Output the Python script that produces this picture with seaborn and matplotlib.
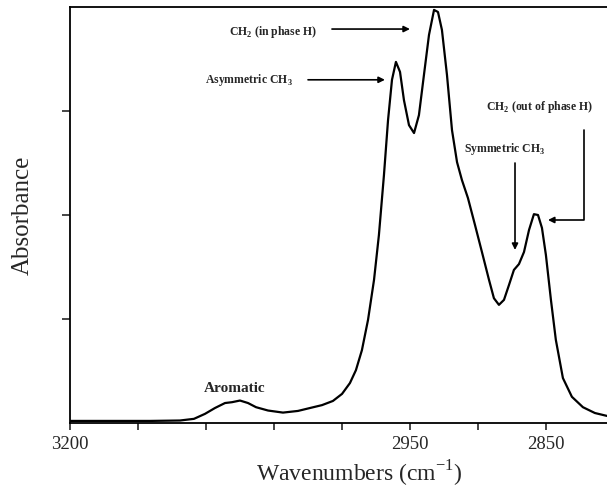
import numpy as np
import pandas as pd
import matplotlib
matplotlib.use("Agg")
import matplotlib.pyplot as plt
import seaborn as sns

# Data
wavenumber = [3200.0, 3170.6, 3141.2, 3119.2, 3108.9, 3100.8, 3093.5, 3086.1, 3081.0, 3075.1,
              3069.2, 3063.3, 3054.5, 3043.5, 3032.5, 3023.7, 3014.8, 3006.8, 3000.1, 2994.3,
              2989.9, 2985.5, 2981.0, 2976.6, 2973.0, 2969.3, 2966.3, 2963.4, 2960.5, 2957.5,
              2954.6, 2950.9, 2947.2, 2943.6, 2939.9, 2936.2, 2932.5, 2929.6, 2926.7, 2923.0,
              2919.3, 2915.6, 2912.0, 2907.6, 2902.4, 2897.3, 2892.1, 2888.5, 2884.8, 2881.1,
              2877.4, 2873.8, 2870.1, 2866.4, 2862.7, 2859.1, 2856.1, 2853.2, 2850.3, 2846.6,
              2843.0, 2837.8, 2831.2, 2823.1, 2814.3, 2805.4]
absorbance = [0.005, 0.005, 0.005, 0.006, 0.010, 0.022, 0.036, 0.048, 0.050, 0.054,
              0.048, 0.038, 0.030, 0.025, 0.029, 0.036, 0.043, 0.053, 0.070, 0.096,
              0.127, 0.175, 0.248, 0.344, 0.452, 0.596, 0.728, 0.825, 0.868, 0.844,
              0.776, 0.716, 0.697, 0.740, 0.837, 0.933, 0.993, 0.988, 0.945, 0.837,
              0.704, 0.627, 0.584, 0.541, 0.476, 0.411, 0.344, 0.300, 0.284, 0.296,
              0.332, 0.368, 0.382, 0.411, 0.464, 0.502, 0.500, 0.469, 0.404, 0.296,
              0.200, 0.108, 0.063, 0.038, 0.024, 0.017]

x_ticks = [3200, 3150, 3100, 3050, 3000, 2950, 2900, 2850]
x_tick_labels = ["3200", "", "", "", "", "2950", "", "2850"]
y_ticks = [0.25, 0.5, 0.75]

annot_texts = ["CH$_\\mathbf{2}$ (in phase H)", "Asymmetric CH$_\\mathbf{3}$",
               "CH$_\\mathbf{2}$ (out of phase H)", "Symmetric CH$_\\mathbf{3}$", "Aromatic"]

df = pd.DataFrame({"Wavenumber": wavenumber, "Absorbance": absorbance})

sns.set_style("ticks")
plt.rcParams["font.family"] = ["Liberation Serif", "DejaVu Serif"]
plt.rcParams["mathtext.fontset"] = "custom"
plt.rcParams["mathtext.rm"] = "Liberation Serif"
plt.rcParams["mathtext.bf"] = "Liberation Serif:bold"

fig = plt.figure(figsize=(6.07, 4.90), dpi=100)
ax = fig.add_axes([70 / 607, 67 / 490, 537 / 607, 416 / 490])

sns.lineplot(data=df, x="Wavenumber", y="Absorbance", sort=False, estimator=None,
             color="black", linewidth=1.6, ax=ax)

ax.set_xlim(3200, 2805.4)
ax.set_ylim(0, 1)
ax.set_xticks(x_ticks)
ax.set_xticklabels(x_tick_labels, fontsize=13.5)
ax.set_yticks(y_ticks)
ax.set_yticklabels([])
ax.tick_params(axis="x", direction="out", length=5, width=1.2, pad=4)
ax.tick_params(axis="y", direction="out", length=6, width=1.2)
for side in ["left", "bottom", "top"]:
    ax.spines[side].set_linewidth(1.3)
    ax.spines[side].set_color("black")
ax.spines["right"].set_visible(False)

ax.set_xlabel("Wavenumbers (cm$^{\\mathregular{-1}}$)", fontsize=17)
ax.xaxis.set_label_coords((359 - 70) / 537, -(459 - 423) / 416)
ax.set_ylabel("Absorbance", fontsize=18)
ax.yaxis.set_label_coords(-(70 - 34) / 537, 0.5)

bold = dict(fontsize=8.5, fontweight="bold", ha="center", va="center")
arrow = dict(arrowstyle="-|>", color="black", lw=1.2, mutation_scale=9, shrinkA=0, shrinkB=0)

ax.text(3050.5, 0.94, annot_texts[0], **bold)
ax.annotate("", xy=(2950.2, 0.947), xytext=(3007.5, 0.947), arrowprops=arrow)

ax.text(3068.5, 0.825, annot_texts[1], **bold)
ax.annotate("", xy=(2968.6, 0.825), xytext=(3025.1, 0.825), arrowprops=arrow)

ax.text(2854.7, 0.76, annot_texts[2], **bold)
ax.annotate("", xy=(2848.8, 0.488), xytext=(2822.3, 0.704),
            arrowprops=dict(arrow, connectionstyle="angle,angleA=90,angleB=0,rad=0"))

ax.text(2880.8, 0.659, annot_texts[3], **bold)
ax.annotate("", xy=(2873.0, 0.416), xytext=(2873.0, 0.625), arrowprops=arrow)

ax.text(3078.8, 0.084, annot_texts[4], fontsize=11, fontweight="bold", ha="center", va="center")

fig.savefig("out.png", dpi=100)
